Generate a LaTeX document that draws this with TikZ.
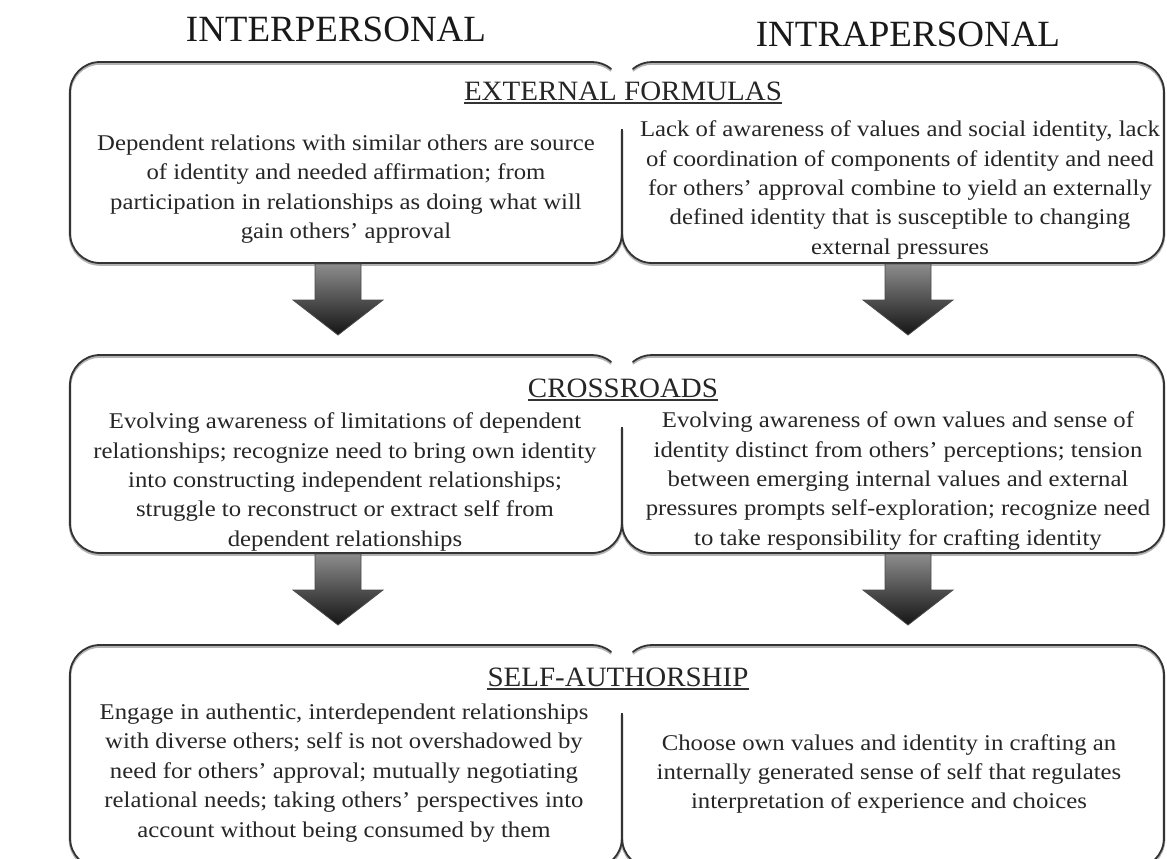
\documentclass[tikz,border=0pt]{standalone}
\usepackage{fontspec}
\setmainfont{Liberation Serif}
\newfontfamily\bodyfnt{Liberation Serif}[FakeStretch=1.1]
\newfontfamily\headfnt{Liberation Serif}[FakeStretch=1.035]
\begin{document}
\begin{tikzpicture}[x=1pt,y=1pt,
  boxline/.style={draw=black!80,line width=1.8pt},
  shadowline/.style={draw=black!30,line width=2.6pt},
  bodytext/.style={inner sep=0pt,align=center,text=black!85,font=\bodyfnt\fontsize{22.5}{29.4}\selectfont},
  headtext/.style={inner sep=0pt,anchor=base,text=black!85,font=\headfnt\fontsize{28}{30}\selectfont},
  titletext/.style={inner sep=0pt,anchor=base,text=black!90,font=\fontsize{37}{40}\selectfont},
  ul/.style={draw=black!80,line width=1.6pt},
  blockarrow/.style={top color=black!45,bottom color=black!92,draw=black!70,line width=0.8pt}]
\useasboundingbox (0,0) rectangle (1167,-859);
\fill[white] (0,0) rectangle (1167,-859);
\clip (0,0) rectangle (1167,-859);
% row of two boxes: #1 top, #2 bottom, #3 top of the shared middle line, #4 style
\newcommand{\rowpair}[4]{%
 \draw[#4] (622,-#3) -- (622,-#2+30) arc[start angle=0,end angle=-90,radius=30]
   -- (100,-#2) arc[start angle=-90,end angle=-180,radius=30]
   -- (70,-#1-30) arc[start angle=180,end angle=90,radius=30]
   -- (592,-#1) arc[start angle=90,end angle=50,radius=30];
 \draw[#4] (632.7,-#1-7) arc[start angle=130,end angle=90,radius=30]
   -- (1134,-#1) arc[start angle=90,end angle=0,radius=30]
   -- (1164,-#2+30) arc[start angle=0,end angle=-90,radius=30]
   -- (652,-#2) arc[start angle=-90,end angle=-180,radius=30];
}
\newcommand{\barrow}[4]{%
 \shade[blockarrow] (#1-23,-#2) -- (#1+23,-#2) -- (#1+23,-#3) -- (#1+45,-#3)
   -- (#1,-#4) -- (#1-45,-#3) -- (#1-23,-#3) -- cycle;
}
\begin{scope}[yshift=-1.5pt]
 \rowpair{62}{263}{129}{shadowline}
 \rowpair{355}{553}{427}{shadowline}
 \rowpair{645}{868}{713}{shadowline}
\end{scope}
\rowpair{62}{263}{129}{boxline}
\rowpair{355}{553}{427}{boxline}
\rowpair{645}{868}{713}{boxline}
% arrows
\barrow{338}{264}{300}{335}
\barrow{908}{264}{300}{335}
\barrow{338}{554}{590}{625}
\barrow{908}{554}{590}{625}
% titles
\node[titletext] (tinter) at (336,-42) {INTERPERSONAL};
\node[titletext] (tintra) at (908,-47) {INTRAPERSONAL};
% headings
\node[headtext] (h1) at (623,-100) {EXTERNAL FORMULAS};
\node[headtext] (h2) at (623,-397) {CROSSROADS};
\node[headtext] (h3) at (618,-686) {SELF-AUTHORSHIP};
\foreach \h in {h1,h2,h3}{\draw[ul] ([yshift=-3pt]\h.base west) -- ([yshift=-3pt]\h.base east);}
% texts
\node[bodytext] (l1) at (346,-189) {Dependent relations with similar others are source\\of identity and needed affirmation; from\\participation in relationships as doing what will\\gain others’ approval};
\node[bodytext] (r1) at (900,-190) {Lack of awareness of values and social identity, lack\\of coordination of components of identity and need\\for others’ approval combine to yield an externally\\defined identity that is susceptible to changing\\external pressures};
\node[bodytext] (l2) at (345,-482) {Evolving awareness of limitations of dependent\\relationships; recognize need to bring own identity\\into constructing independent relationships;\\struggle to reconstruct or extract self from\\dependent relationships};
\node[bodytext] (r2) at (898,-481) {Evolving awareness of own values and sense of\\identity distinct from others’ perceptions; tension\\between emerging internal values and external\\pressures prompts self-exploration; recognize need\\to take responsibility for crafting identity};
\node[bodytext] (l3) at (344,-773) {Engage in authentic, interdependent relationships\\with diverse others; self is not overshadowed by\\need for others’ approval; mutually negotiating\\relational needs; taking others’ perspectives into\\account without being consumed by them};
\node[bodytext] (r3) at (889,-774) {Choose own values and identity in crafting an\\internally generated sense of self that regulates\\interpretation of experience and choices};
\end{tikzpicture}
\end{document}
